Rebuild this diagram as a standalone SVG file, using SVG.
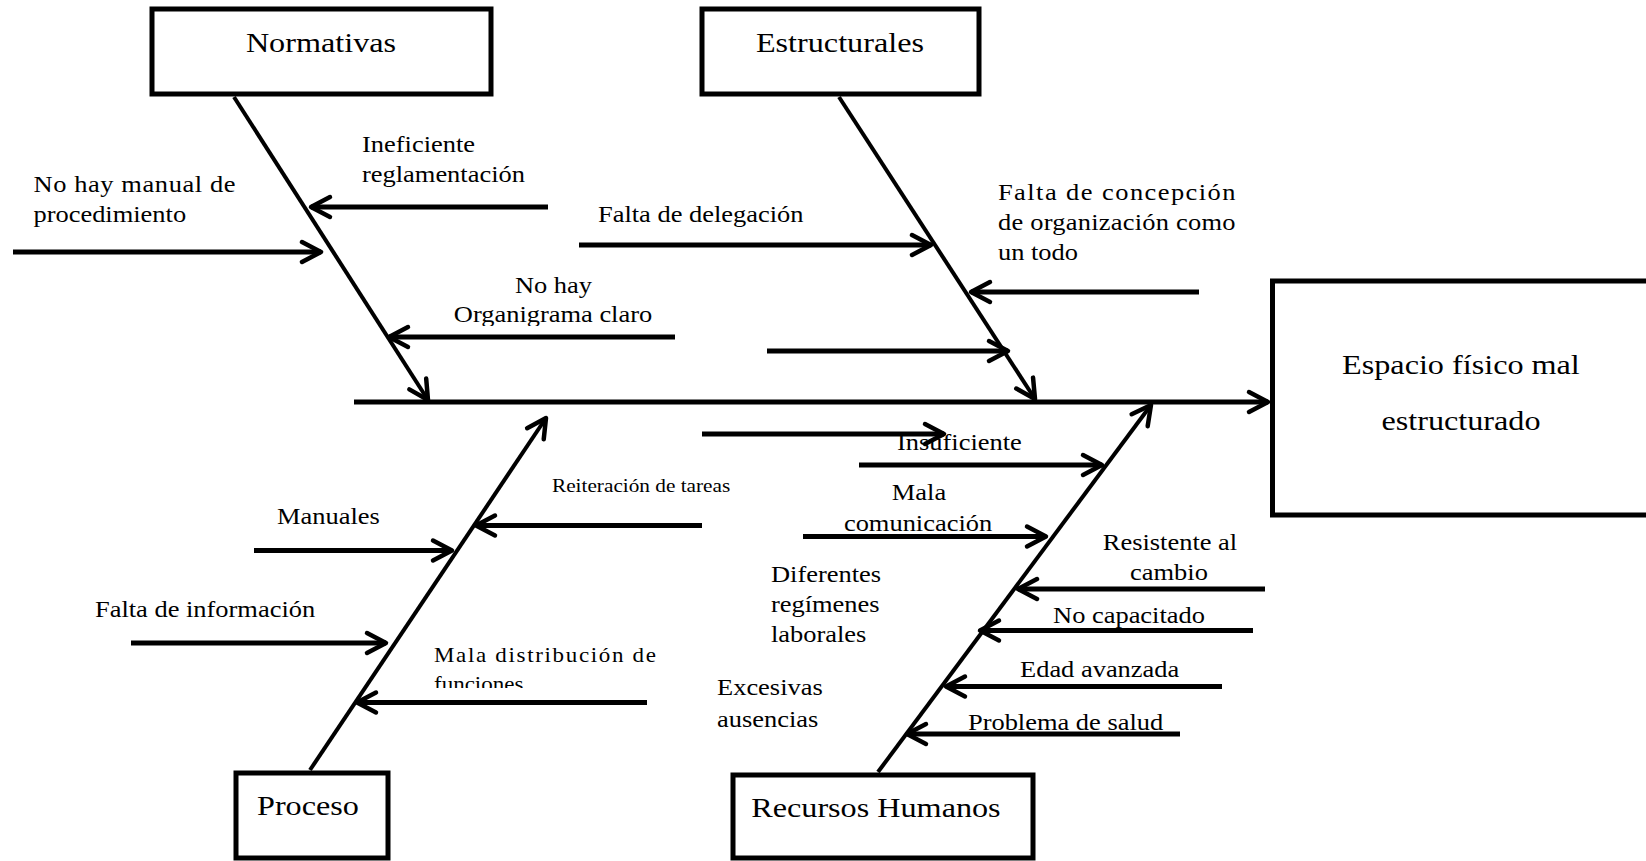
<svg xmlns="http://www.w3.org/2000/svg" width="1646" height="861" viewBox="0 0 1646 861">
  <style>
    .box { fill: #fff; stroke: #000; stroke-width: 5; }
    .bone { stroke: #000; stroke-width: 4; fill: none; marker-end: url(#head); }
    .spine { stroke: #000; stroke-width: 5; fill: none; marker-end: url(#head); }
    .sub { stroke: #000; stroke-width: 5; fill: none; marker-end: url(#head); }
    text { font-family: "Liberation Serif", "Times New Roman", serif; fill: #000; }
    .title { font-size: 28px; text-anchor: middle; }
    .lbl { font-size: 23px; }
    .mid { text-anchor: middle; }
    .small { font-size: 18.5px; }
    .med { font-size: 20px; }
  </style>
  <defs>
    <marker id="head" markerUnits="userSpaceOnUse" markerWidth="40" markerHeight="40" viewBox="-20 -20 40 40" refX="0" refY="0" orient="auto" overflow="visible">
      <path d="M-19,-10 L0,0 L-19,10" fill="none" stroke="#000" stroke-width="4.5" stroke-linecap="round" stroke-linejoin="round"/>
    </marker>
    <clipPath id="clipOrg" clipPathUnits="userSpaceOnUse"><rect x="0" y="0" width="2000" height="326"/></clipPath>
    <clipPath id="clipFun" clipPathUnits="userSpaceOnUse"><rect x="0" y="0" width="2000" height="688"/></clipPath>
  </defs>

  <rect width="1646" height="861" fill="#fff"/>

  <!-- cause labels (text widened horizontally like the original document) -->
  <g id="labels">
    <text class="lbl" transform="scale(1.15 1)" x="314.8" y="152">Ineficiente</text>
    <text class="lbl" transform="scale(1.15 1)" x="314.8" y="182">reglamentación</text>
    <text class="lbl" transform="scale(1.15 1)" x="29.1" y="192" textLength="175.7" lengthAdjust="spacing">No hay manual de</text>
    <text class="lbl" transform="scale(1.15 1)" x="29.1" y="222">procedimiento</text>
    <text class="lbl mid" transform="scale(1.15 1)" x="481.3" y="293">No hay</text>
    <text class="lbl mid" transform="scale(1.15 1)" x="480.9" y="322" clip-path="url(#clipOrg)">Organigrama claro</text>

    <text class="lbl" transform="scale(1.15 1)" x="520" y="222">Falta de delegación</text>
    <text class="lbl" transform="scale(1.15 1)" x="867.8" y="200" textLength="206.5" lengthAdjust="spacing">Falta de concepción</text>
    <text class="lbl" transform="scale(1.15 1)" x="867.8" y="230" textLength="206.5" lengthAdjust="spacing">de organización como</text>
    <text class="lbl" transform="scale(1.15 1)" x="867.8" y="260">un todo</text>

    <text class="small" transform="scale(1.15 1)" x="480" y="492">Reiteración de tareas</text>
    <text class="lbl" transform="scale(1.15 1)" x="240.9" y="524">Manuales</text>
    <text class="lbl" transform="scale(1.15 1)" x="82.6" y="617">Falta de información</text>
    <text class="med" transform="scale(1.15 1)" x="377.4" y="662" textLength="193" lengthAdjust="spacing">Mala distribución de</text>
    <text class="med" transform="scale(1.15 1)" x="377.4" y="691" clip-path="url(#clipFun)">funciones</text>

    <text class="lbl" transform="scale(1.15 1)" x="780" y="450">Insuficiente</text>
    <text class="lbl mid" transform="scale(1.15 1)" x="799.1" y="500">Mala</text>
    <text class="lbl mid" transform="scale(1.15 1)" x="798.3" y="531">comunicación</text>
    <text class="lbl" transform="scale(1.15 1)" x="670.4" y="582">Diferentes</text>
    <text class="lbl" transform="scale(1.15 1)" x="670.4" y="612">regímenes</text>
    <text class="lbl" transform="scale(1.15 1)" x="670.4" y="642">laborales</text>
    <text class="lbl" transform="scale(1.15 1)" x="623.5" y="695">Excesivas</text>
    <text class="lbl" transform="scale(1.15 1)" x="623.5" y="727">ausencias</text>
    <text class="lbl mid" transform="scale(1.15 1)" x="1017.4" y="550">Resistente al</text>
    <text class="lbl mid" transform="scale(1.15 1)" x="1016.5" y="580">cambio</text>
    <text class="lbl" transform="scale(1.15 1)" x="915.7" y="623">No capacitado</text>
    <text class="lbl" transform="scale(1.15 1)" x="887" y="677">Edad avanzada</text>
    <text class="lbl" transform="scale(1.15 1)" x="841.7" y="730">Problema de salud</text>
  </g>

  <!-- spine, category bones and cause arrows -->
  <g id="connectors">
    <line class="spine" x1="354" y1="402" x2="1268" y2="402"/>

    <line class="bone" x1="234" y1="97" x2="428" y2="400"/>
    <line class="bone" x1="839" y1="97" x2="1035" y2="399"/>
    <line class="bone" x1="310" y1="770" x2="546" y2="418"/>
    <line class="bone" x1="878" y1="772" x2="1151" y2="405"/>

    <!-- Normativas -->
    <line class="sub" x1="548" y1="207" x2="311" y2="207"/>
    <line class="sub" x1="13" y1="252" x2="321" y2="252"/>
    <line class="sub" x1="675" y1="337" x2="389" y2="337"/>

    <!-- Estructurales -->
    <line class="sub" x1="579" y1="245" x2="931" y2="245"/>
    <line class="sub" x1="1199" y1="292" x2="971" y2="292"/>
    <line class="sub" x1="767" y1="351" x2="1008" y2="351"/>

    <!-- Proceso -->
    <line class="sub" x1="702" y1="525.5" x2="476" y2="525.5"/>
    <line class="sub" x1="254" y1="550.5" x2="452" y2="550.5"/>
    <line class="sub" x1="131" y1="643" x2="386" y2="643"/>
    <line class="sub" x1="647" y1="702.5" x2="357" y2="702.5"/>

    <!-- Recursos Humanos -->
    <line class="sub" x1="702" y1="434" x2="944" y2="434"/>
    <line class="sub" x1="859" y1="465" x2="1102" y2="465"/>
    <line class="sub" x1="803" y1="536.5" x2="1046" y2="536.5"/>
    <line class="sub" x1="1265" y1="589" x2="1018" y2="589"/>
    <line class="sub" x1="1253" y1="630.5" x2="980" y2="630.5"/>
    <line class="sub" x1="1222" y1="686.5" x2="946" y2="686.5"/>
    <line class="sub" x1="1180" y1="734" x2="907" y2="734"/>
  </g>

  <g id="normativas">
    <rect class="box" x="152" y="9" width="339" height="85"/>
    <text class="title" transform="scale(1.15 1)" x="279.1" y="52">Normativas</text>
  </g>
  <g id="estructurales">
    <rect class="box" x="702" y="9" width="277" height="85"/>
    <text class="title" transform="scale(1.15 1)" x="730.4" y="52">Estructurales</text>
  </g>
  <g id="efecto">
    <rect class="box" x="1272.5" y="281" width="400" height="234"/>
    <text class="title" transform="scale(1.15 1)" x="1270.4" y="374">Espacio físico mal</text>
    <text class="title" transform="scale(1.15 1)" x="1270.4" y="430">estructurado</text>
  </g>
  <g id="proceso">
    <rect class="box" x="236" y="773" width="152" height="85"/>
    <text class="title" transform="scale(1.15 1)" x="267.8" y="815">Proceso</text>
  </g>
  <g id="recursos-humanos">
    <rect class="box" x="733" y="775" width="300" height="83"/>
    <text class="title" transform="scale(1.15 1)" x="761.7" y="817">Recursos Humanos</text>
  </g>
</svg>
